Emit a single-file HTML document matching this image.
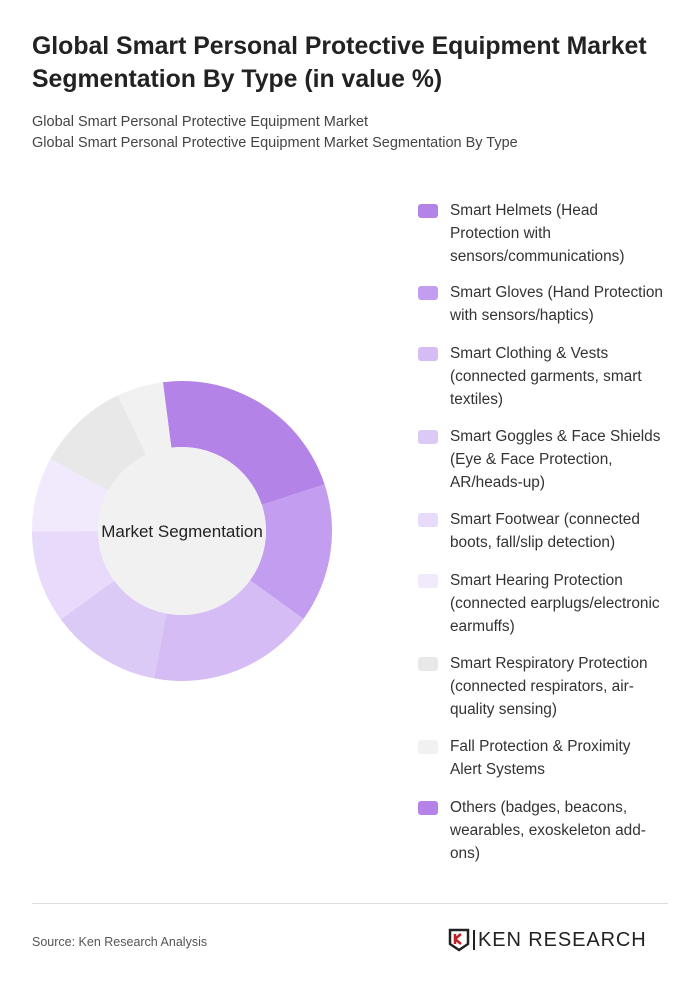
<!DOCTYPE html>
<html><head><meta charset="utf-8"><style>
body{margin:0;background:#fff;font-family:"Liberation Sans",sans-serif;}
#page{position:relative;width:700px;height:989px;overflow:hidden;background:#fff}
h1{position:absolute;left:32px;top:30px;margin:0;font-size:24.8px;line-height:33px;color:#222;font-weight:bold;width:660px}
.sub{position:absolute;left:32px;font-size:14.5px;color:#444}
.leg{position:absolute;left:418px;width:260px}
.sw{position:absolute;left:0;width:20px;height:14px;border-radius:3px}
.lt{position:absolute;left:32px;font-size:15.4px;line-height:23px;color:#333;width:214px}
</style></head><body>
<div id="page">
<h1>Global Smart Personal Protective Equipment Market Segmentation By Type (in value %)</h1>
<div class="sub" style="top:114px">Global Smart Personal Protective Equipment Market</div>
<div class="sub" style="top:135px">Global Smart Personal Protective Equipment Market Segmentation By Type</div>
<svg id="donut" width="700" height="989" style="position:absolute;left:0;top:0"></svg>
<div id="legend"></div>
<div style="position:absolute;left:32px;top:903px;width:636px;height:1px;background:#ddd"></div>
<div style="position:absolute;left:32px;top:935px;font-size:12.5px;color:#555">Source: Ken Research Analysis</div>
<div style="position:absolute;left:448px;top:928px;width:220px;height:24px">
<svg width="22" height="24" style="position:absolute;left:0;top:0"><path d="M2 2h18v14l-9 6-9-6z" fill="none" stroke="#222" stroke-width="2.5"/><path d="M7 6v10M7 11l6-5M7 11l6 5" stroke="#c0202a" stroke-width="2.5" fill="none"/></svg>
<div style="position:absolute;left:25px;top:2px;width:2px;height:20px;background:#222"></div>
<div style="position:absolute;left:30px;top:0;font-size:20px;letter-spacing:0.9px;color:#222;line-height:24px">KEN RESEARCH</div>
</div>
</div>
<script>
const categories=["Smart Helmets (Head Protection with sensors/communications)","Smart Gloves (Hand Protection with sensors/haptics)","Smart Clothing & Vests (connected garments, smart textiles)","Smart Goggles & Face Shields (Eye & Face Protection, AR/heads-up)","Smart Footwear (connected boots, fall/slip detection)","Smart Hearing Protection (connected earplugs/electronic earmuffs)","Smart Respiratory Protection (connected respirators, air-quality sensing)","Fall Protection & Proximity Alert Systems","Others (badges, beacons, wearables, exoskeleton add-ons)"];
const values=[22,15,18,12,10,8,10,5,0];
const colors=["#b483e8","#c39def","#d5bcf4","#dccaf6","#e7dafa","#f1eafc","#e8e8e8","#f1f1f1","#b483e8"];
const legendTops=[199,281,342,425,508,569,652,735,796];
const names=["helmets","gloves","clothing","goggles","footwear","hearing","respiratory","fall-protection","others"];
const svg=document.getElementById('donut');const NS="http://www.w3.org/2000/svg";
const cx=182,cy=531,R=150,r=84,start=-7.3;
const total=values.reduce((a,b)=>a+b,0);
function pt(a,rad){const t=(a-90)*Math.PI/180;return [cx+rad*Math.cos(t),cy+rad*Math.sin(t)];}
let a=start;
values.forEach((v,i)=>{if(v<=0)return;const sweep=v/total*360;const a2=a+sweep;
const [x1,y1]=pt(a,R),[x2,y2]=pt(a2,R),[x3,y3]=pt(a2,r),[x4,y4]=pt(a,r);const lg=sweep>180?1:0;
const p=document.createElementNS(NS,'path');
p.setAttribute('d',`M${x1} ${y1}A${R} ${R} 0 ${lg} 1 ${x2} ${y2}L${x3} ${y3}A${r} ${r} 0 ${lg} 0 ${x4} ${y4}Z`);
p.setAttribute('fill',colors[i]);


svg.appendChild(p);a=a2;});
const c=document.createElementNS(NS,'circle');c.setAttribute('cx',cx);c.setAttribute('cy',cy);c.setAttribute('r',r);c.setAttribute('fill','#f1f1f1');


svg.appendChild(c);
const t=document.createElementNS(NS,'text');t.setAttribute('x',cx);t.setAttribute('y',cy+6);t.setAttribute('text-anchor','middle');t.setAttribute('font-size','17');t.setAttribute('fill','#222');t.setAttribute('font-family','Liberation Sans, sans-serif');t.textContent='Market Segmentation';


svg.appendChild(t);
const lg=document.getElementById('legend');
categories.forEach((cat,i)=>{const d=document.createElement('div');d.className='leg';d.style.top=legendTops[i]+'px';


d.innerHTML=`<div class="sw" style="top:5px;background:${colors[i]}"></div><div class="lt" style="top:0">${cat.replace(/&/g,'&amp;')}</div>`;lg.appendChild(d);});
</script>
</body></html>
